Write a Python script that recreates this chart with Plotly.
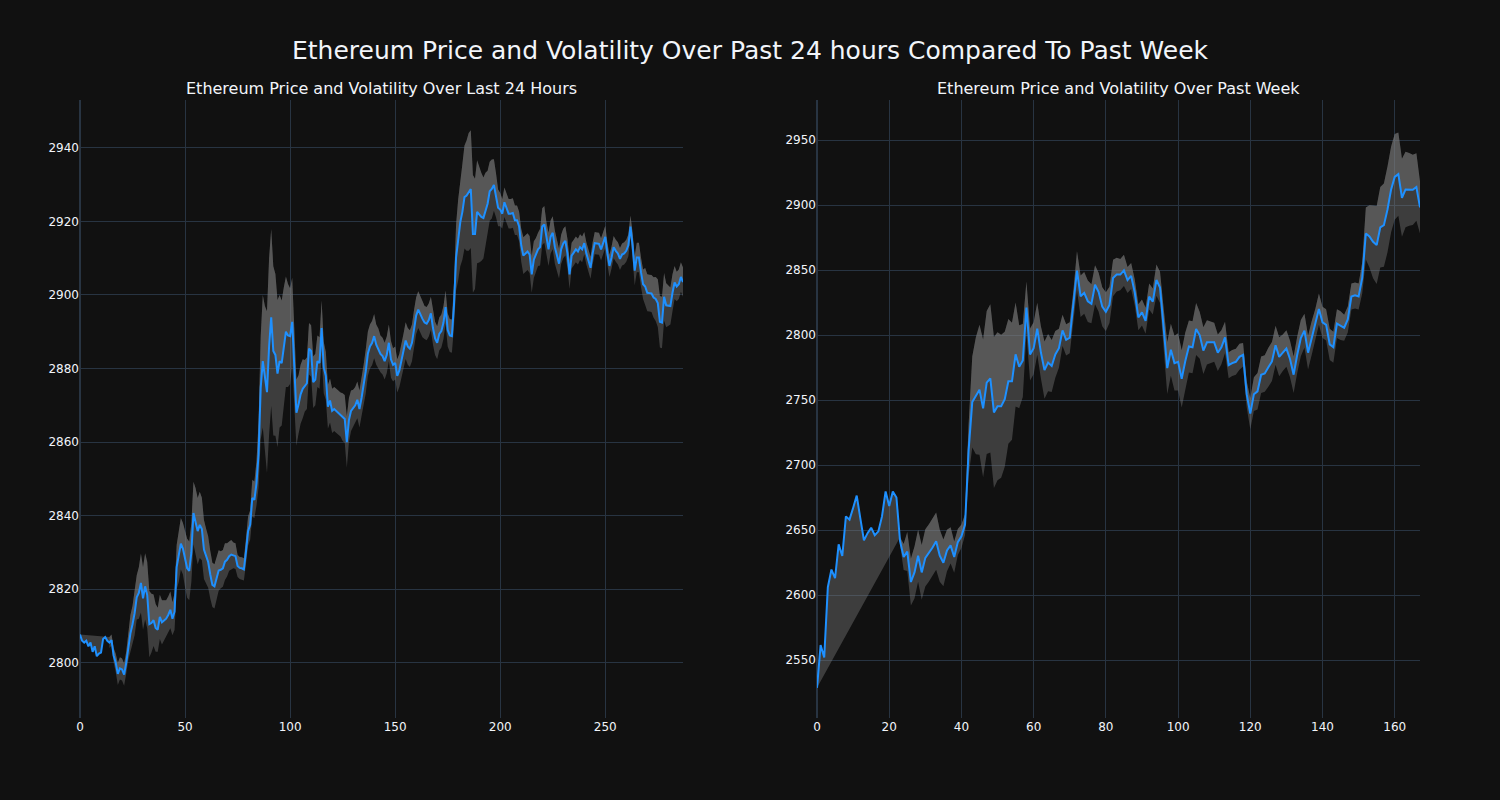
import plotly.graph_objects as go
from plotly.subplots import make_subplots

# ---------------- data: last 24 hours (5-minute steps) ----------------
day_price = [
    2807.7, 2806, 2805.5, 2806, 2804.5, 2805.5, 2803, 2804.5, 2801.8, 2802.5,
    2802.8, 2806.5, 2807, 2806, 2805.5, 2806.2, 2802, 2800, 2797, 2798.5,
    2798.2, 2796.8, 2800, 2804.8, 2808, 2810.5, 2813.5, 2817.8, 2819, 2821.7,
    2817.5, 2820.8, 2818.4, 2810.5, 2810.8, 2811.6, 2809.5, 2809, 2812.5, 2811,
    2811.5, 2812, 2813, 2814.4, 2812, 2813.9, 2826, 2829, 2832.4, 2831,
    2828, 2825.7, 2825, 2830, 2840.7, 2838.5, 2835.8, 2837.5, 2836.4, 2830.8,
    2829, 2827.4, 2824, 2821.2, 2820.8, 2823, 2825.1, 2825.3, 2825.7, 2827.5,
    2828, 2829, 2829.4, 2829.2, 2829, 2826.3, 2825.8, 2825.7, 2825.4, 2830.2,
    2835.8, 2837.5, 2844.8, 2844.3, 2848.8, 2856.7, 2874.7, 2882, 2877, 2873.6,
    2886, 2893.9, 2884.8, 2883.7, 2878.6, 2882, 2881.5, 2886, 2890, 2889,
    2888.8, 2892.7, 2879, 2868, 2870.2, 2873, 2874.5, 2875.3, 2876, 2885.4,
    2884.8, 2876.3, 2877, 2882, 2881.5, 2891, 2880.3, 2878, 2869.6, 2871.3,
    2868.5, 2869, 2868.5, 2868, 2867.5, 2866.8, 2866.3, 2860, 2866, 2868.5,
    2869.2, 2870, 2871.5, 2869, 2872, 2875.5, 2879.2, 2884, 2886, 2886.9,
    2888.8, 2886.5, 2885.4, 2884, 2883.4, 2882, 2883.7, 2887, 2882.5, 2881,
    2881.5, 2878, 2879.5, 2882, 2885, 2887.6, 2886, 2885.4, 2887, 2891,
    2894.4, 2896, 2894.5, 2893.5, 2892.5, 2892.2, 2893.2, 2895, 2891, 2888.2,
    2887, 2889.4, 2890.2, 2892.5, 2896.7, 2890.5, 2889, 2888.8, 2897.2, 2910.2,
    2915, 2919.8, 2922.6, 2926.6, 2927, 2928, 2928.8, 2916.6, 2916.6, 2922.6,
    2921.8, 2921.2, 2920.9, 2923.2, 2924.8, 2928.2, 2928.8, 2929.9, 2927.1, 2923.7,
    2923.2, 2922.1, 2925.2, 2923.7, 2922.1, 2922.1, 2922.3, 2920.3, 2920.3, 2918.6,
    2913.5, 2910.7, 2911.3, 2911.8, 2911, 2905.6, 2909.6, 2911, 2912.4, 2913,
    2918.6, 2919.2, 2915.3, 2912.4, 2915.8, 2916.9, 2913, 2910.5, 2908.5, 2912.4,
    2914, 2914.7, 2911.3, 2905.6, 2910.7, 2911.5, 2912.4, 2911.8, 2913, 2912.4,
    2914.1, 2911.3, 2909, 2907.4, 2911.3, 2914.1, 2914, 2913.9, 2912.4, 2914.1,
    2915.8, 2911.3, 2907.9, 2910.2, 2913, 2912, 2911.3, 2909.8, 2911, 2911.3,
    2912, 2913.5, 2918.6, 2913.5, 2906.6, 2910.2, 2910.2, 2906.2, 2902.9, 2902.3,
    2900.6, 2900.5, 2900.4, 2899.3, 2898.9, 2897.8, 2892.7, 2892.5, 2899.5, 2897.2,
    2897.1, 2897, 2900.6, 2903.4, 2902.3, 2902.9, 2904.9, 2903.5,
]

day_vol = [
    None, None, None, None, None, None, None, None, None, None, None, None, None, None,
    1.5, 1.5, 2, 2.5, 3, 3, 3, 3, 3,
    4, 5, 5, 6, 6,
    7, 8, 8.5, 9, 9, 9,
    8, 7, 6.5, 6, 6, 6, 5.5,
    5, 5, 5, 4.5, 5,
    6, 7, 7, 7, 7.5,
    8, 8, 8,
    8.5, 9, 9, 9, 8.5,
    8, 7.5, 7, 6.5, 6, 6,
    6, 5.5, 5, 5, 5, 4.5, 4,
    4, 3.5, 3.5, 3, 3, 3, 3,
    3.5, 4, 4, 5, 5, 6, 9,
    14, 18, 20, 22, 24, 24, 23,
    22, 20, 18, 17, 16, 15, 14, 13, 12,
    10, 9, 8, 8, 8, 7, 7,
    7, 7, 7, 7, 7, 7, 7.5, 7, 6.5,
    6, 6, 6, 6, 6, 6, 6, 6.5, 6.5, 7,
    6, 5.5, 5, 5, 5, 5, 5, 5.5, 6, 6,
    6, 6, 6, 5.5, 5.5, 5, 5, 5, 5, 5, 5, 4.5, 4.5,
    4.5, 4.5, 4.5, 4.5, 5, 5, 5, 5, 5, 5, 5, 5, 5, 4.5,
    4.5, 4.5, 4.5, 4.5, 4.5, 4.5, 4.5, 4.5, 4.5, 4.5, 4.5, 4.5, 4.5,
    6, 9, 11, 12, 13, 14, 15, 16, 16,
    16, 15, 14, 13, 12, 11, 10, 9, 8, 8,
    7, 6, 5, 4.5, 4, 4, 4, 4, 4, 4, 4, 4, 4,
    4.5, 5, 5, 5, 5, 5, 5, 4.5, 4.5, 5, 5, 5, 4.5, 4.5, 4.5,
    4.5, 4.5, 4, 4, 4, 4, 4, 4, 4, 3.5, 3.5, 3.5, 3.5, 3.5, 3.5,
    3, 3, 3, 3, 3, 3, 3, 3, 3, 3, 3, 3, 3, 3, 3, 3, 3, 3, 3, 3, 3, 3, 3,
    3.5, 4, 4, 4, 4, 4,
    5, 5, 5, 5, 5.5, 6, 6.5, 7, 7, 6.5, 6, 5.5,
    5, 5, 4.5, 4, 4, 4, 4,
]

# ---------------- data: past week (hourly) ----------------
week_price = [
    2528.6, 2561.5, 2552, 2606, 2619.6, 2613, 2639, 2630, 2660.5, 2658,
    2667, 2676.5, 2659, 2642, 2647.6, 2651.8, 2646, 2649, 2660.5, 2679.7,
    2668.5, 2679.7, 2675, 2641.4, 2629.2, 2633.4, 2610, 2617.4, 2630.2, 2617.4,
    2628.6, 2632.4, 2636.6, 2641.4, 2630.2, 2624.8, 2634.3, 2638.2, 2629.2, 2640.7,
    2645.2, 2654.2, 2711.7, 2748.4, 2753.2, 2758, 2743.6, 2763.4, 2766.6, 2740.4,
    2745.2, 2745.2, 2750.6, 2764.4, 2764.4, 2785.1, 2775.6, 2780.4, 2821.2, 2785.1,
    2789.9, 2804.9, 2786.7, 2773, 2778.8, 2776.2, 2785.1, 2789.9, 2803.6, 2796.3,
    2797.9, 2821.8, 2849.6, 2829.8, 2832.4, 2826, 2824, 2838.7, 2833, 2821.8,
    2817.9, 2823.2, 2843.9, 2846.5, 2846.5, 2849.7, 2842.3, 2845.5, 2832.7, 2813.6,
    2817.4, 2811, 2829.6, 2825.7, 2842.3, 2836.6, 2805.6, 2774.6, 2788.7, 2778.4,
    2779.4, 2766.3, 2780, 2791.2, 2790.6, 2804.6, 2799.8, 2788, 2794.4, 2794.4,
    2794.4, 2786.4, 2790.6, 2798.2, 2776.8, 2778.4, 2779.4, 2783.2, 2784.8, 2754.5,
    2739.5, 2754.5, 2756.7, 2769.5, 2770.4, 2775.2, 2779.7, 2792.2, 2783.2, 2786.4,
    2789.6, 2781.6, 2769.5, 2784.8, 2797.6, 2803.4, 2786.4, 2797.6, 2808.1, 2820,
    2809.7, 2807.8, 2792.8, 2790.6, 2808.8, 2807.2, 2805.6, 2812, 2829.6, 2830.5,
    2829.6, 2843.9, 2878.1, 2875.9, 2871.7, 2869.2, 2882.9, 2884.5, 2896.6, 2912,
    2921.6, 2923.8, 2905.6, 2912, 2912, 2911.7, 2913.9, 2898.2,
]

week_vol = [
    None, None, None, None, None, None, None, None, None, None, None, None,
    None, None, None, None, None, None, None, None, None, None, None,
    3, 10, 15, 18, 20, 20, 21, 22, 22, 22, 22, 20, 18, 16, 14, 12, 10, 9, 8,
    20, 35, 45, 50, 53, 55, 57, 58, 57, 55, 52, 48, 45, 40, 32, 28, 20,
    20, 20, 20, 20, 22, 22, 20, 18, 15, 12, 12, 12, 12,
    15, 16, 16, 16, 15, 15, 15, 15, 15, 14, 14, 13, 12, 12,
    10, 10, 10, 10, 10, 10, 10, 10, 12, 12,
    15, 20, 20, 21, 22, 22, 22, 20, 20, 20, 18, 18, 17, 16, 15, 14, 13, 12,
    10, 10, 10, 10, 9,
    10, 12, 13, 14, 14, 14, 15, 15, 15, 15,
    14, 14, 14, 14, 14, 14, 13, 13, 13,
    12, 12, 12, 12, 12, 12,
    11, 11, 10, 10, 10, 10, 10,
    12, 20, 24, 28, 30, 31, 32, 33, 33, 33, 32, 30, 29, 28, 27, 26, 20,
]

main_title = "Ethereum Price and Volatility Over Past 24 hours Compared To Past Week"
sub_titles = ["Ethereum Price and Volatility Over Last 24 Hours",
              "Ethereum Price and Volatility Over Past Week"]

LINE = "#1e90ff"
BAND = "rgba(128,128,128,0.4)"
FONT = "DejaVu Sans"


def band(price, vol, sign):
    return [p + sign * v if v is not None else None for p, v in zip(price, vol)]


fig = make_subplots(rows=1, cols=2, subplot_titles=sub_titles, horizontal_spacing=0.1)

for col, price, vol in [(1, day_price, day_vol), (2, week_price, week_vol)]:
    x = list(range(len(price)))
    # base (price) for the fill
    fig.add_trace(go.Scatter(x=x, y=price, mode="lines", line=dict(width=0, color=LINE),
                             showlegend=False, hoverinfo="skip"), row=1, col=col)
    fig.add_trace(go.Scatter(x=x, y=band(price, vol, 1), mode="lines", line=dict(width=0),
                             fill="tonexty", fillcolor=BAND, showlegend=False,
                             name="Upper"), row=1, col=col)
    fig.add_trace(go.Scatter(x=x, y=band(price, vol, -1), mode="lines", line=dict(width=0),
                             fill="tonexty", fillcolor=BAND, showlegend=False,
                             name="Lower"), row=1, col=col)
    fig.add_trace(go.Scatter(x=x, y=price, mode="lines", line=dict(width=2, color=LINE),
                             showlegend=False, name="Price"), row=1, col=col)

fig.update_layout(
    template="plotly_dark",
    width=1500, height=800,
    paper_bgcolor="#111111", plot_bgcolor="#111111",
    font=dict(family=FONT, size=12, color="#f2f5fa"),
    margin=dict(l=80, r=80, t=100, b=82),
    title=dict(text=main_title, x=0.5, xanchor="center", y=0.9375, yanchor="middle",
               font=dict(family=FONT, size=25, color="#f2f5fa")),
    showlegend=False,
)
fig.update_annotations(font=dict(family=FONT, size=16, color="#f2f5fa"))

fig.update_xaxes(range=[0, len(day_price) - 1], row=1, col=1)
fig.update_xaxes(range=[0, len(week_price) - 1], row=1, col=2)
fig.update_yaxes(range=[2785, 2953], dtick=20, row=1, col=1)
fig.update_yaxes(range=[2505.4, 2980.8], dtick=50, row=1, col=2)

fig.write_html("out.html", config={"displayModeBar": False},
               post_script="document.body.style.margin='0';")
